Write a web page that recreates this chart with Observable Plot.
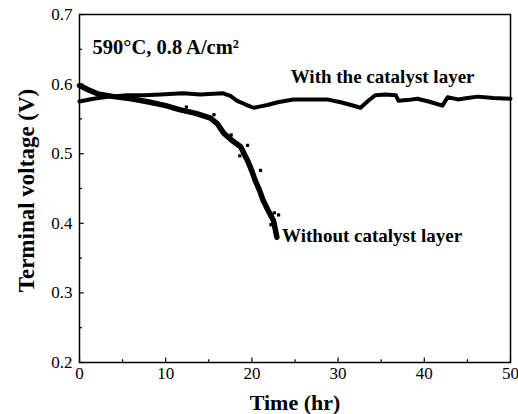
<!DOCTYPE html>
<html>
<head>
<meta charset="utf-8">
<script src="https://cdn.jsdelivr.net/npm/d3@7"></script>
<script src="https://cdn.jsdelivr.net/npm/@observablehq/plot@0.6"></script>
<style>
  html, body { margin: 0; padding: 0; background: #fff; }
  #chart { width: 518px; height: 414px; }
  #chart svg, #chart svg text { font-family: "Liberation Serif", "Times New Roman", serif; }
</style>
</head>
<body>
<div id="chart"></div>
<script>
// With the catalyst layer: time (hr), voltage (V)
const withTime = [0, 1.6, 3.5, 5.5, 7.5, 9.4, 12.0, 14.0, 16.6, 17.5, 18.3, 19.2, 20.2, 21.0, 21.8, 23.0, 24.8, 27.6, 28.7, 30.3, 31.5, 32.6, 33.5, 34.3, 35.5, 36.7, 37.0, 38.0, 39.2, 40.5, 42.1, 42.7, 43.9, 45.0, 46.2, 48.0, 50.0];
const withVolt = [0.575, 0.579, 0.582, 0.584, 0.584, 0.585, 0.587, 0.585, 0.587, 0.583, 0.576, 0.571, 0.566, 0.568, 0.570, 0.574, 0.578, 0.578, 0.578, 0.574, 0.570, 0.566, 0.576, 0.584, 0.585, 0.584, 0.576, 0.577, 0.579, 0.575, 0.569, 0.581, 0.578, 0.580, 0.582, 0.580, 0.579];

// Without catalyst layer
const withoutTime = [0, 1.0, 2.1, 4.0, 6.0, 8.2, 10.0, 11.7, 13.5, 15.2, 16.0, 16.7, 17.7, 18.7, 19.1, 19.5, 20.0, 20.4, 20.9, 21.3, 21.9, 22.5, 22.9];
const withoutVolt = [0.598, 0.592, 0.586, 0.582, 0.579, 0.574, 0.569, 0.563, 0.558, 0.551, 0.543, 0.530, 0.519, 0.510, 0.500, 0.490, 0.475, 0.461, 0.447, 0.433, 0.418, 0.404, 0.380];

// scattered points around the degrading curve
const scatterTime = [12.4, 15.6, 18.6, 21.0, 22.6, 23.1, 22.2, 20.7, 19.5, 17.6];
const scatterVolt = [0.567, 0.556, 0.497, 0.476, 0.415, 0.412, 0.398, 0.450, 0.512, 0.527];

const xTicks = [0, 10, 20, 30, 40, 50];
const xMinor = [5, 15, 25, 35, 45];
const yTicks = [0.2, 0.3, 0.4, 0.5, 0.6, 0.7];
const yMinor = [0.25, 0.35, 0.45, 0.55, 0.65];

const withData = withTime.map((t, i) => ({t, v: withVolt[i]}));
const withoutData = withoutTime.map((t, i) => ({t, v: withoutVolt[i]}));
const scatterData = scatterTime.map((t, i) => ({t, v: scatterVolt[i]}));

const serif = "Liberation Serif";

const plot = Plot.plot({
  width: 518,
  height: 414,
  marginLeft: 79,
  marginRight: 8,
  marginTop: 14,
  marginBottom: 52,
  style: {fontFamily: serif, fontSize: "16px", color: "#000", background: "#fff"},
  x: {domain: [0, 50], ticks: xTicks},
  y: {domain: [0.2, 0.7], ticks: yTicks},
  marks: [
    Plot.frame({stroke: "#000", strokeWidth: 1.5}),
    Plot.axisX(xTicks, {tickSize: 0, tickPadding: 4, fontSize: 17, fontFamily: serif, label: null, tickFormat: d => String(d)}),
    Plot.axisY(yTicks, {tickSize: 0, tickPadding: 7, fontSize: 17, fontFamily: serif, label: null, tickFormat: d => d.toFixed(1)}),
    // inward ticks
    Plot.ruleX(xTicks, {x: d => d, y1: 0.2, y2: 0.2 + 0.0065, stroke: "#000", strokeWidth: 1.2}),
    Plot.ruleX(xMinor, {x: d => d, y1: 0.2, y2: 0.2 + 0.004, stroke: "#000", strokeWidth: 1.2}),
    Plot.ruleY(yTicks, {y: d => d, x1: 0, x2: 0.55, stroke: "#000", strokeWidth: 1.2}),
    Plot.ruleY(yMinor, {y: d => d, x1: 0, x2: 0.35, stroke: "#000", strokeWidth: 1.2}),
    // curves
    Plot.line(withData, {x: "t", y: "v", stroke: "#000", strokeWidth: 4, curve: "linear"}),
    Plot.line(withoutData, {x: "t", y: "v", stroke: "#000", strokeWidth: 5.5, curve: "linear"}),
    Plot.dot(scatterData, {x: "t", y: "v", symbol: "square", r: 1.8, fill: "#000"}),
    // annotations
    Plot.text(["590\u00B0C, 0.8 A/cm\u00B2"], {frameAnchor: "top-left", dx: 13, dy: 25, fontSize: 20.5, fontWeight: "bold", fontFamily: serif, textAnchor: "start"}),
    Plot.text(["With the catalyst layer"], {x: 24.5, y: 0.611, fontSize: 19, fontWeight: "bold", fontFamily: serif, textAnchor: "start"}),
    Plot.text(["Without catalyst layer"], {x: 23.5, y: 0.382, fontSize: 19, fontWeight: "bold", fontFamily: serif, textAnchor: "start"}),
    // axis titles
    Plot.text(["Time (hr)"], {frameAnchor: "bottom", lineAnchor: "bottom", dy: 47, fontSize: 22, fontWeight: "bold", fontFamily: serif}),
    Plot.text(["Terminal voltage (V)"], {frameAnchor: "left", textAnchor: "middle", dx: -53, dy: 2, rotate: -90, fontSize: 23, fontWeight: "bold", fontFamily: serif})
  ]
});
document.getElementById("chart").appendChild(plot);
</script>
</body>
</html>
